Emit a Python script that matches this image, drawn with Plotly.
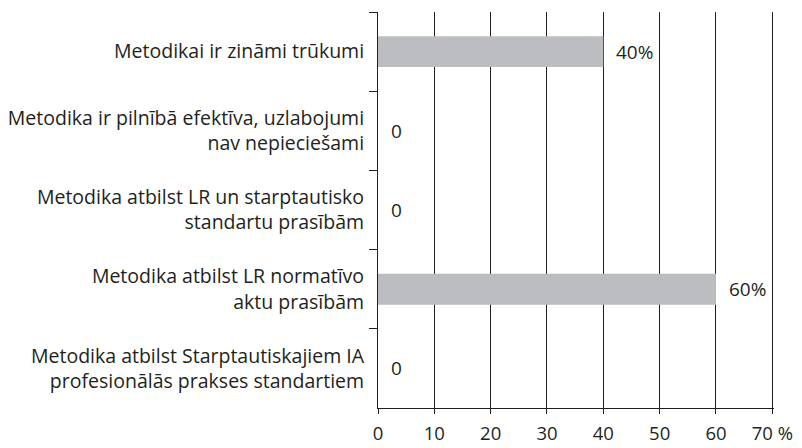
import plotly.graph_objects as go

categories = [
    "Metodikai ir zināmi trūkumi",
    "Metodika ir pilnībā efektīva, uzlabojumi<br>nav nepieciešami",
    "Metodika atbilst LR un starptautisko<br>standartu prasībām",
    "Metodika atbilst LR normatīvo<br>aktu prasībām",
    "Metodika atbilst Starptautiskajiem IA<br>profesionālās prakses standartiem",
]
values = [40, 0, 0, 60, 0]
value_labels = ["40%", "0", "0", "60%", "0"]
x_ticks = [0, 10, 20, 30, 40, 50, 60, 70]
x_tick_labels = ["0", "10", "20", "30", "40", "50", "60", "70 %"]

ink = "#231f20"

fig = go.Figure(go.Bar(
    x=values, y=categories, orientation="h",
    marker_color="#bcbdc0", width=0.39,
))

# value labels next to the bars
for cat, v, lab in zip(categories, values, value_labels):
    fig.add_annotation(x=v, y=cat, text=lab, showarrow=False,
                       xanchor="left", xshift=11,
                       font=dict(size=19, color=ink))

# page body has an 8px margin, so the figure is a bit smaller than the window
fig.update_layout(
    template="none",
    width=794, height=440,
    margin=dict(l=370, r=28, t=4, b=40),
    plot_bgcolor="white", paper_bgcolor="white",
    font=dict(family="Open Sans", size=19.5, color=ink),
    showlegend=False,
)
fig.update_xaxes(
    range=[0, 70.3], tickvals=x_ticks, ticktext=x_tick_labels,
    showgrid=True, gridcolor=ink, gridwidth=1,
    showline=True, linecolor=ink, linewidth=1,
    ticks="outside", ticklen=5, tickcolor=ink,
    zeroline=False, automargin=False, ticklabelstandoff=4,
    tickfont=dict(size=18.5),
)
fig.update_yaxes(
    autorange="reversed", showgrid=False, zeroline=False,
    showline=True, linecolor=ink, linewidth=1,
    ticks="outside", tickson="boundaries", ticklen=8, tickcolor=ink,
    ticklabelstandoff=9, automargin=False,
)

fig.write_html("out.html")
